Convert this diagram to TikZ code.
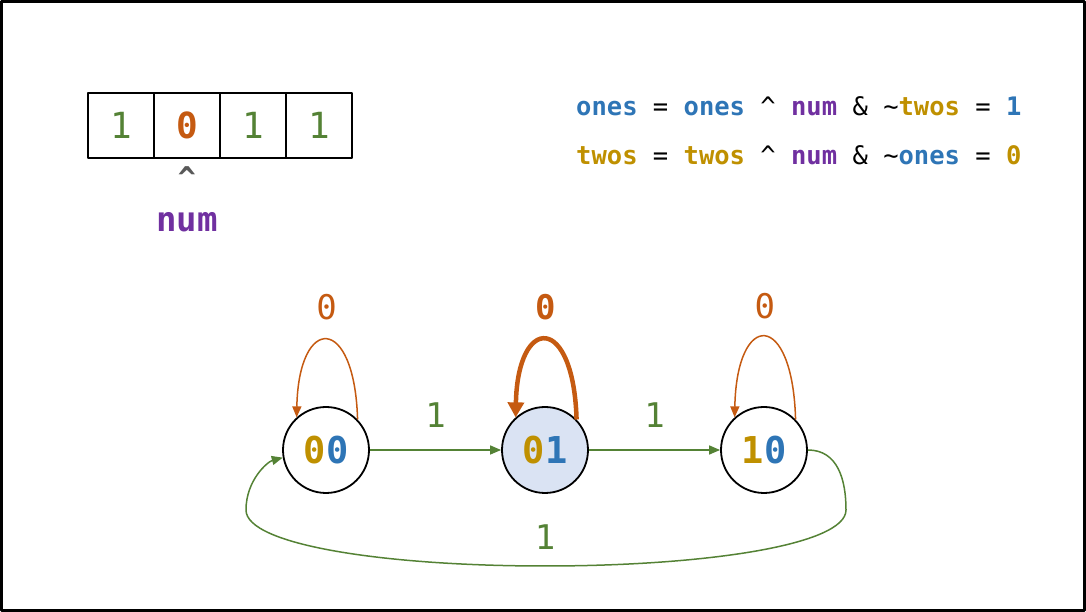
\documentclass[tikz,border=0pt]{standalone}
\usepackage{fontspec}
\newfontfamily\codefont{DejaVu Sans Mono}
\usepackage{xcolor}
\usetikzlibrary{arrows.meta}
\definecolor{onesblue}{HTML}{2E75B6}
\definecolor{twosgold}{HTML}{BF9000}
\definecolor{numpurple}{HTML}{7030A0}
\definecolor{zeroorange}{HTML}{C55A11}
\definecolor{onegreen}{HTML}{548235}
\definecolor{statefill}{HTML}{DAE3F3}
\newcommand{\vOnes}{{\color{onesblue}\bfseries ones}}
\newcommand{\vTwos}{{\color{twosgold}\bfseries twos}}
\newcommand{\vNum}{{\color{numpurple}\bfseries num}}

\begin{document}
\begin{tikzpicture}[x=1pt, y=1pt, >={Triangle[length=11pt,width=9pt]}, line join=round,
  state/.style={circle, draw, line width=1.8pt, minimum size=86pt, inner sep=0pt,
    font=\codefont\fontsize{37}{40}\selectfont\bfseries},
  cell/.style={draw, line width=1.6pt, minimum width=66pt, minimum height=65pt, inner sep=0pt,
    font=\codefont\fontsize{36}{40}\selectfont},
  eqn/.style={anchor=west, inner sep=0pt, font=\codefont\fontsize{25.5}{30}\selectfont},
  lbl/.style={inner sep=0pt, font=\codefont\fontsize{34}{36}\selectfont},
  oneedge/.style={->, onegreen, line width=1.5pt},
  zeroloop/.style={->, zeroorange, line width=1.5pt}]
  \useasboundingbox (0,0) rectangle (1086,612);
  \draw[line width=3pt] (1.5,1.5) rectangle (1084.5,610.5);

  \node[cell, text=onegreen] (c1) at (121,486.5) {1};
  \node[cell, text=zeroorange, font=\codefont\fontsize{36}{40}\selectfont\bfseries] (c2) at (187,486.5) {0};
  \node[cell, text=onegreen] (c3) at (253,486.5) {1};
  \node[cell, text=onegreen] (c4) at (319,486.5) {1};
  \node[inner sep=0pt, text=black!65, font=\codefont\fontsize{30}{32}\selectfont\bfseries] (caret) at (187,434) {\textasciicircum};
  \node[lbl, font=\codefont\fontsize{34}{36}\selectfont\bfseries, text=numpurple] (num) at (187,390) {num};

  \node[eqn] (eqones) at (576,506) {\vOnes{} = \vOnes{} \textasciicircum{} \vNum{} \& \textasciitilde\vTwos{} = {\color{onesblue}\bfseries 1}};
  \node[eqn] (eqtwos) at (576,457) {\vTwos{} = \vTwos{} \textasciicircum{} \vNum{} \& \textasciitilde\vOnes{} = {\color{twosgold}\bfseries 0}};

  \node[state] (s00) at (326,162) {\color{twosgold}0\color{onesblue}0};
  \node[state, fill=statefill] (s01) at (545,162) {\color{twosgold}0\color{onesblue}1};
  \node[state] (s10) at (764,162) {\color{twosgold}1\color{onesblue}0};

  \draw[oneedge] (s00) -- node[lbl, text=onegreen, midway, yshift=35pt] {1} (s01);
  \draw[oneedge] (s01) -- node[lbl, text=onegreen, midway, yshift=35pt] {1} (s10);

  \draw[zeroloop] (s00.44) .. controls +(-3,106) and +(2,103) .. node[lbl, midway, yshift=33pt] {0} (s00.132);
  \draw[->, zeroorange, line width=4.5pt, >={Triangle[length=15pt,width=16pt]}] (s01.44) .. controls +(-3,106) and +(2,103) .. node[lbl, midway, yshift=33pt, font=\codefont\fontsize{34}{36}\selectfont\bfseries] {0} (s01.132);
  \draw[zeroloop] (s10.44) .. controls +(-3,110) and +(2,107) .. node[lbl, midway, yshift=31pt] {0} (s10.132);

  \draw[oneedge] (s10.east) .. controls +(30,0) and +(0,30) .. (846,102)
    .. controls +(0,-35) and +(160,0) .. (545,46) node[lbl, text=onegreen, yshift=29pt] {1}
    .. controls +(-160,0) and +(0,-35) .. (246,102)
    .. controls +(0,30) and +(-15,-4) .. (s00.190);
\end{tikzpicture}
\end{document}
